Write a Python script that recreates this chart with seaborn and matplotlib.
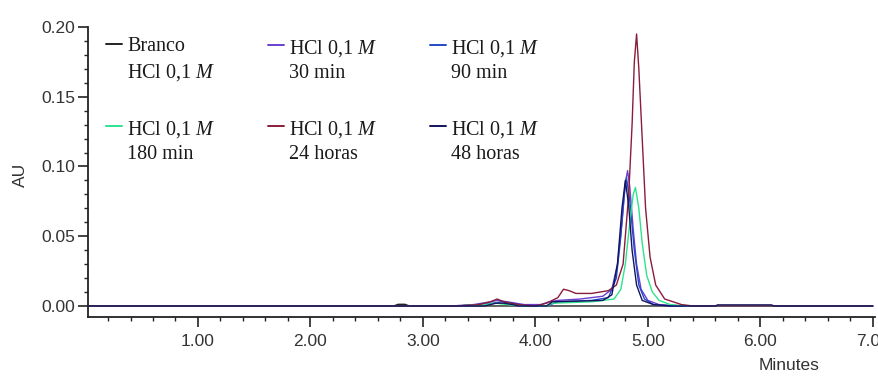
import matplotlib
matplotlib.use("Agg")
import matplotlib.pyplot as plt
import seaborn as sns
import pandas as pd
from matplotlib.ticker import MultipleLocator, FixedLocator, FixedFormatter
from matplotlib.lines import Line2D
from matplotlib.offsetbox import HPacker

# ---- data ----
series_names = ["Branco", "30 min", "90 min", "180 min", "24 horas", "48 horas"]
legend_labels = ["Branco\nHCl 0,1 $M$", "HCl 0,1 $M$\n30 min", "HCl 0,1 $M$\n90 min",
                 "HCl 0,1 $M$\n180 min", "HCl 0,1 $M$\n24 horas", "HCl 0,1 $M$\n48 horas"]
series_colors = ["#222222", "#6a3fd0", "#2448c8", "#2fe38c", "#8a1c3c", "#14145e"]

branco_t = [0.02, 2.74, 2.78, 2.84, 2.88, 7.0]
branco_y = [0, 0, 0.0012, 0.0012, 0, 0]

m30_t = [0.02, 3.25, 3.45, 3.6, 3.66, 3.75, 3.9, 4.05, 4.12, 4.2, 4.4, 4.6, 4.68, 4.73, 4.77,
         4.8, 4.82, 4.84, 4.87, 4.9, 4.94, 5.0, 5.1, 5.3, 7.0]
m30_y = [0, 0, 0.001, 0.003, 0.004, 0.003, 0.001, 0.001, 0.003, 0.004, 0.005, 0.007, 0.012, 0.03,
         0.06, 0.088, 0.097, 0.085, 0.055, 0.03, 0.012, 0.004, 0.001, 0, 0]

m90_t = [0.02, 3.3, 3.5, 3.62, 3.7, 3.8, 3.9, 4.1, 4.2, 4.5, 4.65, 4.72, 4.76, 4.79, 4.81, 4.84,
         4.88, 4.92, 4.97, 5.05, 5.2, 7.0]
m90_y = [0, 0, 0.001, 0.002, 0.003, 0.002, 0, 0, 0.003, 0.004, 0.006, 0.02, 0.05, 0.08, 0.092,
         0.075, 0.04, 0.015, 0.005, 0.001, 0, 0]

m180_t = [0.02, 3.3, 3.55, 3.65, 3.75, 3.9, 4.1, 4.15, 4.5, 4.7, 4.76, 4.8, 4.84, 4.87, 4.89,
          4.92, 4.95, 4.99, 5.04, 5.1, 5.2, 5.35, 7.0]
m180_y = [0, 0, 0.001, 0.002, 0.001, 0, 0, 0.002, 0.003, 0.005, 0.012, 0.03, 0.06, 0.08, 0.085,
          0.07, 0.045, 0.022, 0.01, 0.004, 0.001, 0, 0]

h24_t = [0.02, 3.3, 3.5, 3.6, 3.66, 3.72, 3.85, 4.0, 4.1, 4.2, 4.25, 4.3, 4.36, 4.5, 4.65, 4.72,
         4.78, 4.83, 4.86, 4.88, 4.9, 4.92, 4.95, 4.98, 5.02, 5.07, 5.15, 5.3, 5.4, 7.0]
h24_y = [0, 0, 0.001, 0.003, 0.005, 0.003, 0.001, 0, 0.002, 0.006, 0.012, 0.011, 0.009, 0.009,
         0.011, 0.015, 0.03, 0.08, 0.13, 0.175, 0.195, 0.17, 0.12, 0.07, 0.035, 0.015, 0.005,
         0.001, 0, 0]

h48_t = [0.02, 3.55, 3.65, 3.72, 3.8, 3.85, 4.1, 4.15, 4.6, 4.68, 4.73, 4.77, 4.8, 4.83, 4.86,
         4.9, 4.95, 5.05, 5.2, 5.6, 5.62, 6.1, 6.12, 7.0]
h48_y = [0, 0, 0.002, 0.002, 0.001, 0, 0, 0.003, 0.004, 0.008, 0.03, 0.07, 0.09, 0.072, 0.04,
         0.015, 0.004, 0.001, 0, 0, 0.0008, 0.0008, 0, 0]

x_ticks = [1, 2, 3, 4, 5, 6, 7]
x_ticklabels = ["1.00", "2.00", "3.00", "4.00", "5.00", "6.00", "7.00"]
y_ticks = [0.00, 0.05, 0.10, 0.15, 0.20]
y_ticklabels = ["0.00", "0.05", "0.10", "0.15", "0.20"]

# ---- build long table ----
all_t = [branco_t, m30_t, m90_t, m180_t, h24_t, h48_t]
all_y = [branco_y, m30_y, m90_y, m180_y, h24_y, h48_y]
rows = []
for name, ts, ys in zip(series_names, all_t, all_y):
    for i, (t, y) in enumerate(zip(ts, ys)):
        rows.append({"series": name, "t": t, "AU": y, "order": i})
df = pd.DataFrame(rows)

sns.set_theme(style="ticks")
plt.rcParams["font.family"] = ["Liberation Sans", "DejaVu Sans"]
plt.rcParams["mathtext.fontset"] = "custom"
plt.rcParams["mathtext.it"] = "Liberation Serif:italic"
plt.rcParams["mathtext.rm"] = "Liberation Serif"

W, H = 879, 376
fig = plt.figure(figsize=(W / 100, H / 100), dpi=100)
ax = fig.add_axes([88 / W, 1 - 317 / H, (875 - 88) / W, (317 - 27) / H])

palette = dict(zip(series_names, series_colors))
sns.lineplot(data=df, x="t", y="AU", hue="series", palette=palette, hue_order=series_names,
             units="series", estimator=None, sort=False, legend=False, linewidth=1.0, ax=ax)

ax.set_xlim(0.022, 7.02)
ax.set_ylim(-0.0079, 0.20)
for s in ["top", "right"]:
    ax.spines[s].set_visible(False)
for s in ["left", "bottom"]:
    ax.spines[s].set_color("#222222")
    ax.spines[s].set_linewidth(1.3)

ax.xaxis.set_major_locator(FixedLocator(x_ticks))
ax.xaxis.set_major_formatter(FixedFormatter(x_ticklabels))
ax.xaxis.set_minor_locator(MultipleLocator(0.2))
ax.yaxis.set_major_locator(FixedLocator(y_ticks))
ax.yaxis.set_major_formatter(FixedFormatter(y_ticklabels))
ax.yaxis.set_minor_locator(MultipleLocator(0.01))
ax.tick_params(axis="both", which="major", direction="out", length=7, width=1.2,
               color="#222222", labelsize=12.5, labelcolor="#333333", pad=2)
ax.tick_params(axis="both", which="minor", direction="out", length=3, width=1.0, color="#222222")
ax.tick_params(axis="x", which="major", pad=5)
ax.set_xlabel("")
ax.set_ylabel("")

fig.text(789 / W, 1 - 365 / H, "Minutes", ha="center", va="center", fontsize=12.5, color="#333333")
fig.text(20 / W, 1 - 175 / H, "AU", ha="center", va="center", rotation=90, fontsize=12.5,
         color="#333333")

# ---- legend (rows: Branco/30/90, 180/24h/48h) ----
handles = [Line2D([], [], color=c, lw=1.4) for c in series_colors]
order = [0, 3, 1, 4, 2, 5]
leg = ax.legend([handles[i] for i in order], [legend_labels[i] for i in order],
                loc="upper left", bbox_to_anchor=(106 / W, 1 - 37 / H),
                bbox_transform=fig.transFigure, ncol=3, frameon=False,
                prop={"family": "Liberation Serif", "size": 14.5},
                handlelength=0.8, handletextpad=0.25, columnspacing=2.6,
                labelspacing=1.75, borderpad=0, borderaxespad=0)
for t in leg.get_texts():
    t.set_linespacing(1.42)
    t.set_color("#1a1a1a")
# put each handle level with the first line of its label
try:
    for col in leg._legend_handle_box.get_children():
        for entry in col.get_children():
            if isinstance(entry, HPacker):
                entry.align = "top"
except Exception:
    pass

fig.savefig("out.png", dpi=100)
